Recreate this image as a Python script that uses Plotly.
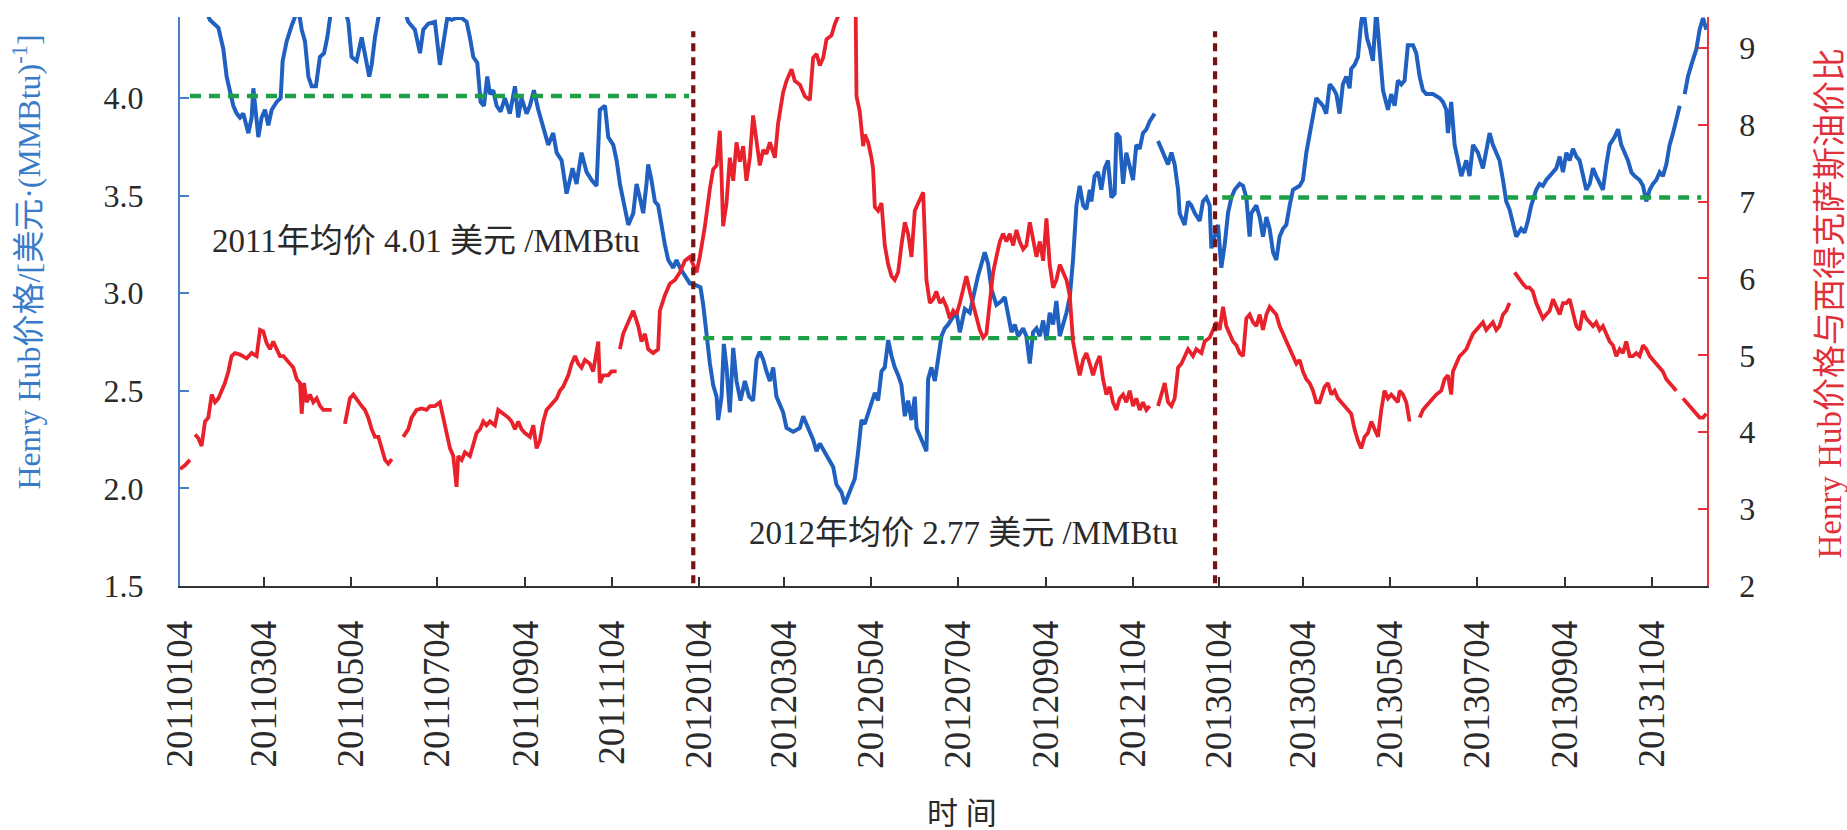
import pandas as pd
import plotly.graph_objects as go

START = pd.Timestamp("2011-01-04")

# Henry Hub spot price, USD/MMBtu (left axis).
# Each entry: (days since 2011-01-04, price); None marks missing data.
hh_series = [
    (0, 4.47), (8, 4.52), (16, 4.48), (21.1, 4.40), (27.0, 4.36), (30.5, 4.25), (32.8, 4.11),
    (35.2, 4.04), (37.5, 3.96), (39.9, 3.92), (42.2, 3.90), (44.5, 3.92), (48.1, 3.82),
    (50.4, 3.90), (51.6, 4.05), (53.4, 3.92), (55.1, 3.80), (57.4, 3.90), (59.8, 3.94),
    (62.1, 3.86), (64.5, 3.94), (68.0, 3.98), (70.8, 4.00), (72.2, 4.19), (75.0, 4.29),
    (78.5, 4.37), (80.9, 4.41), (83.2, 4.46), (85.6, 4.35), (87.9, 4.29), (90.3, 4.11),
    (92.6, 4.06), (95.6, 4.06), (98.4, 4.21), (101.3, 4.23), (103.6, 4.31), (105.5, 4.41),
    (108.0, 4.50), (115.0, 4.48), (118.4, 4.39), (120.7, 4.21), (124.2, 4.19), (127.8, 4.31),
    (130.1, 4.23), (133.1, 4.11), (134.8, 4.17), (137.1, 4.31), (139.5, 4.41), (143.0, 4.50),
    (150.0, 4.52), (157.0, 4.47), (160.5, 4.39), (165.2, 4.35), (168.8, 4.23), (171.1, 4.35),
    (174.6, 4.38), (179.3, 4.39), (182.8, 4.17), (185.2, 4.27), (188.0, 4.41), (191.0, 4.40),
    (194.5, 4.41), (198.1, 4.41), (201.6, 4.39), (203.9, 4.31), (206.3, 4.21), (209.1, 4.18),
    (210.5, 4.07), (211.4, 3.98), (213.8, 3.96), (216.1, 4.11), (218.0, 4.02), (220.3, 4.04),
    (222.7, 3.96), (225.5, 3.93), (228.5, 4.00), (232.0, 3.92), (235.6, 4.06), (237.9, 3.90),
    (240.2, 4.00), (243.8, 3.92), (246.1, 3.96), (248.9, 4.04), (252.0, 3.94), (255.5, 3.84),
    (259.0, 3.76), (262.5, 3.82), (264.9, 3.72), (268.4, 3.68), (271.9, 3.51), (274.2, 3.58),
    (276.1, 3.64), (278.9, 3.56), (282.4, 3.72), (286.0, 3.62), (289.5, 3.58), (293.0, 3.55),
    (295.3, 3.94), (298.9, 3.96), (301.2, 3.80), (304.7, 3.76), (307.1, 3.68), (309.4, 3.56),
    (311.7, 3.47), (315.3, 3.35), (318.8, 3.41), (321.1, 3.56), (323.4, 3.49), (325.8, 3.41),
    (328.1, 3.56), (329.3, 3.66), (331.6, 3.58), (334.0, 3.47), (336.3, 3.45), (338.7, 3.33),
    (341.0, 3.25), (343.4, 3.17), (346.9, 3.13), (349.2, 3.17), (351.6, 3.13), (355.1, 3.09),
    (358.6, 3.05), (363.3, 3.04), (366.1, 3.03), (368.0, 2.94), (370.3, 2.78), (372.7, 2.64),
    (375.0, 2.53), (377.4, 2.47), (378.5, 2.35), (380.9, 2.47), (382.5, 2.74), (384.4, 2.62),
    (386.7, 2.39), (389.1, 2.72), (391.4, 2.55), (394.2, 2.45), (397.3, 2.55), (400.3, 2.47),
    (403.1, 2.45), (405.5, 2.66), (407.8, 2.70), (410.2, 2.66), (412.5, 2.60), (414.9, 2.55),
    (417.2, 2.62), (419.5, 2.47), (424.2, 2.39), (426.6, 2.31), (431.3, 2.29), (436.0, 2.31),
    (438.3, 2.37), (440.6, 2.33), (445.3, 2.25), (447.7, 2.19), (450.0, 2.23), (454.7, 2.17),
    (459.4, 2.11), (461.7, 2.02), (465.3, 1.98), (467.6, 1.92), (471.1, 1.99), (474.6, 2.05),
    (477.0, 2.19), (479.3, 2.35), (481.6, 2.33), (484.0, 2.39), (486.3, 2.43), (488.7, 2.49),
    (491.0, 2.45), (493.4, 2.60), (495.7, 2.62), (498.1, 2.76), (500.4, 2.68), (502.7, 2.62),
    (505.1, 2.58), (507.4, 2.53), (509.8, 2.37), (512.1, 2.45), (514.5, 2.35), (516.8, 2.47),
    (518.0, 2.31), (521.5, 2.25), (525.0, 2.19), (526.2, 2.56), (528.5, 2.62), (530.9, 2.55),
    (533.2, 2.68), (535.6, 2.78), (537.9, 2.82), (540.3, 2.84), (543.8, 2.88), (546.1, 2.90),
    (548.5, 2.80), (552.0, 2.92), (555.5, 2.90), (559.0, 3.02), (561.3, 3.09), (563.7, 3.15),
    (566.0, 3.21), (568.4, 3.15), (570.7, 3.02), (574.2, 2.94), (577.8, 2.96), (580.1, 2.98),
    (582.4, 2.88), (584.8, 2.80), (587.1, 2.84), (589.5, 2.78), (593.0, 2.82), (595.3, 2.78),
    (597.7, 2.64), (600.0, 2.80), (602.4, 2.82), (604.7, 2.78), (607.1, 2.86), (609.4, 2.76),
    (611.7, 2.90), (614.1, 2.84), (616.4, 2.96), (618.8, 2.78), (621.1, 2.84), (623.5, 2.90),
    (625.8, 2.98), (628.1, 3.17), (630.5, 3.45), (632.8, 3.55), (635.2, 3.45), (637.5, 3.43),
    (639.9, 3.53), (641.0, 3.47), (643.3, 3.60), (645.7, 3.62), (648.0, 3.53), (650.4, 3.64),
    (652.7, 3.68), (655.1, 3.49), (657.4, 3.51), (658.6, 3.82), (660.9, 3.80), (663.3, 3.56),
    (665.6, 3.72), (668.0, 3.64), (670.3, 3.58), (672.6, 3.76), (675.0, 3.74), (677.3, 3.82),
    (679.7, 3.84), (682.0, 3.88), (685.5, 3.92), (686.7, None), (687.9, 3.78), (690.2, 3.74),
    (692.6, 3.70), (694.9, 3.66), (697.3, 3.72), (699.6, 3.66), (702.0, 3.53), (703.1, 3.41),
    (706.6, 3.35), (709.0, 3.47), (711.3, 3.45), (713.7, 3.41), (717.2, 3.37), (719.5, 3.47),
    (721.9, 3.49), (724.2, 3.45), (725.4, 3.23), (727.7, 3.29), (730.1, 3.35), (732.4, 3.13),
    (734.8, 3.25), (737.1, 3.41), (739.5, 3.49), (741.8, 3.53), (745.3, 3.56), (747.7, 3.55),
    (750.0, 3.49), (752.3, 3.29), (753.5, 3.41), (757.0, 3.45), (759.4, 3.39), (761.7, 3.29),
    (764.1, 3.39), (766.4, 3.33), (768.8, 3.21), (771.1, 3.17), (773.4, 3.29), (775.8, 3.33),
    (778.1, 3.35), (780.5, 3.45), (782.8, 3.53), (787.5, 3.55), (789.8, 3.58), (792.2, 3.72),
    (794.5, 3.82), (796.9, 3.92), (799.2, 4.00), (801.5, 3.98), (803.9, 3.96), (806.2, 3.92),
    (808.6, 4.07), (810.9, 4.05), (813.3, 4.02), (815.6, 3.92), (817.9, 4.07), (820.3, 4.11),
    (822.6, 4.05), (823.8, 4.15), (826.1, 4.17), (828.5, 4.21), (830.8, 4.39), (832.5, 4.45),
    (834.8, 4.31), (837.2, 4.25), (839.0, 4.19), (841.4, 4.45), (843.7, 4.23), (846.1, 4.04),
    (849.6, 3.94), (851.9, 4.02), (854.3, 3.96), (856.6, 4.09), (859.0, 4.07), (861.3, 4.09),
    (863.6, 4.27), (867.2, 4.27), (869.5, 4.23), (871.9, 4.11), (874.2, 4.04), (876.5, 4.02),
    (881.2, 4.02), (885.9, 4.00), (888.3, 3.98), (890.6, 3.94), (891.8, 3.82), (894.1, 3.98),
    (896.5, 3.76), (898.8, 3.68), (901.2, 3.60), (904.7, 3.68), (907.0, 3.60), (909.4, 3.76),
    (912.9, 3.72), (916.4, 3.64), (918.7, 3.72), (921.1, 3.82), (923.4, 3.76), (925.8, 3.72),
    (928.1, 3.68), (930.5, 3.58), (932.8, 3.47), (935.1, 3.43), (937.5, 3.35), (939.8, 3.29),
    (943.3, 3.33), (945.7, 3.31), (948.0, 3.37), (950.4, 3.45), (953.9, 3.53), (956.2, 3.56),
    (958.6, 3.55), (960.9, 3.58), (963.3, 3.60), (965.7, 3.62), (968.0, 3.64), (970.4, 3.70),
    (972.7, 3.62), (975.1, 3.72), (977.4, 3.68), (979.7, 3.74), (982.1, 3.70), (984.4, 3.68),
    (986.8, 3.60), (989.1, 3.53), (991.5, 3.56), (993.8, 3.64), (996.1, 3.60), (998.5, 3.56),
    (1000.8, 3.53), (1003.2, 3.66), (1005.5, 3.76), (1009.0, 3.80), (1011.4, 3.84),
    (1013.7, 3.76), (1016.1, 3.72), (1018.4, 3.68), (1020.8, 3.62), (1023.1, 3.60),
    (1026.6, 3.58), (1029.0, 3.55), (1031.3, 3.47), (1033.7, 3.53), (1036.0, 3.56),
    (1038.3, 3.58), (1040.7, 3.62), (1043.0, 3.60), (1045.4, 3.66), (1047.7, 3.76),
    (1050.1, 3.82), (1052.4, 3.88), (1054.8, 3.96), (1056.5, None), (1058.3, 4.02),
    (1060.6, 4.11), (1063.0, 4.17), (1066.5, 4.25), (1068.8, 4.35), (1071.2, 4.41),
    (1073.5, 4.35),
]

# Henry Hub price relative to WTI oil price (right axis).
# Each entry: (days since 2011-01-04, value); None marks missing data.
ratio_series = [
    (0, 3.52), (3.5, 3.57), (7.0, 3.64), (8.8, None), (10.6, 3.97), (12.9, 3.92), (15.2, 3.82),
    (17.6, 4.14), (19.9, 4.19), (22.3, 4.49), (24.6, 4.39), (27.0, 4.44), (29.3, 4.54),
    (31.6, 4.64), (34.0, 4.79), (36.3, 4.99), (38.7, 5.03), (42.2, 5.01), (46.9, 4.96),
    (50.4, 5.03), (53.9, 4.99), (56.3, 5.33), (58.6, 5.31), (60.9, 5.16), (63.3, 5.08),
    (65.6, 5.18), (68.0, 5.08), (70.3, 4.99), (72.7, 4.99), (75.0, 4.94), (77.4, 4.89),
    (79.7, 4.84), (82.1, 4.69), (84.4, 4.64), (85.6, 4.24), (87.2, 4.64), (89.1, 4.39),
    (91.4, 4.49), (93.8, 4.39), (96.1, 4.44), (98.5, 4.34), (100.8, 4.29), (103.1, 4.29),
    (106.7, 4.29), (111.0, None), (116.0, 4.11), (119.5, 4.44), (121.9, 4.49), (125.4, 4.39),
    (127.8, 4.34), (130.1, 4.29), (132.4, 4.19), (134.8, 4.04), (137.1, 3.94), (139.5, 3.94),
    (141.8, 3.79), (144.2, 3.64), (146.5, 3.59), (149.0, 3.65), (153.0, None), (157.0, 3.94),
    (160.6, 4.04), (162.9, 4.19), (166.4, 4.29), (169.9, 4.31), (173.4, 4.29), (175.8, 4.34),
    (179.3, 4.34), (182.8, 4.39), (185.2, 4.19), (187.5, 3.99), (189.9, 3.79), (192.2, 3.69),
    (194.5, 3.29), (195.7, 3.69), (198.1, 3.64), (200.4, 3.74), (203.9, 3.69), (206.3, 3.84),
    (208.6, 3.99), (211.0, 4.04), (213.3, 4.14), (215.6, 4.09), (218.0, 4.14), (221.5, 4.09),
    (223.8, 4.29), (227.4, 4.24), (230.9, 4.19), (233.2, 4.14), (235.6, 4.04), (237.9, 4.14),
    (240.2, 4.04), (242.6, 3.99), (246.1, 3.94), (248.5, 4.09), (250.8, 3.79), (253.1, 3.89),
    (255.5, 4.14), (257.8, 4.29), (260.2, 4.34), (262.5, 4.39), (264.9, 4.44), (267.2, 4.54),
    (269.5, 4.59), (273.1, 4.74), (275.4, 4.89), (277.8, 4.99), (280.1, 4.89), (282.4, 4.84),
    (284.8, 4.94), (288.3, 4.89), (290.6, 4.79), (294.2, 5.18), (295.3, 4.64), (297.7, 4.74),
    (301.2, 4.74), (303.5, 4.79), (307.1, 4.79), (308.3, None), (309.4, 5.08), (311.7, 5.28),
    (316.4, 5.48), (318.8, 5.58), (322.3, 5.38), (324.6, 5.18), (327.0, 5.28), (329.3, 5.08),
    (332.8, 5.03), (336.3, 5.08), (337.5, 5.58), (341.0, 5.78), (344.5, 5.93), (348.1, 5.98),
    (351.6, 6.08), (355.1, 6.23), (358.6, 6.28), (361.0, 6.18), (363.3, 6.08), (365.6, 6.28),
    (369.2, 6.68), (372.7, 7.17), (375.0, 7.42), (377.4, 7.47), (379.7, 7.92), (380.9, 7.32),
    (382.0, 6.68), (384.4, 6.98), (386.7, 7.57), (389.1, 7.27), (391.4, 7.77), (393.8, 7.52),
    (396.1, 7.72), (398.4, 7.27), (400.8, 7.57), (403.1, 8.12), (405.5, 7.82), (407.8, 7.47),
    (410.2, 7.67), (412.5, 7.62), (414.9, 7.77), (418.4, 7.57), (420.7, 8.02), (424.2, 8.42),
    (426.6, 8.57), (430.1, 8.72), (432.4, 8.57), (436.0, 8.52), (439.5, 8.37), (443.0, 8.32),
    (445.3, 8.87), (447.7, 8.92), (450.0, 8.77), (452.4, 8.87), (454.7, 9.11), (458.2, 9.16),
    (460.6, 9.31), (462.9, 9.41), (466.0, 9.80), (471.0, 10.0), (475.0, 9.90), (475.8, 8.37),
    (478.1, 8.17), (480.5, 7.72), (481.6, 7.87), (484.0, 7.77), (486.3, 7.57), (487.5, 7.42),
    (488.7, 6.93), (491.0, 6.88), (493.4, 6.98), (494.5, 6.68), (495.7, 6.43), (498.1, 6.18),
    (500.4, 6.03), (502.7, 5.98), (505.1, 6.08), (507.4, 6.43), (509.8, 6.73), (512.1, 6.58),
    (514.5, 6.28), (516.8, 6.88), (520.3, 7.02), (522.7, 7.12), (525.0, 5.98), (527.4, 5.68),
    (529.7, 5.73), (532.0, 5.83), (534.4, 5.68), (536.7, 5.73), (539.1, 5.63), (541.4, 5.48),
    (543.8, 5.58), (546.1, 5.53), (548.5, 5.68), (550.8, 5.88), (553.1, 6.03), (555.5, 5.83),
    (557.8, 5.68), (560.2, 5.48), (562.5, 5.33), (564.9, 5.23), (567.2, 5.28), (569.5, 5.68),
    (571.9, 6.08), (574.2, 6.28), (576.6, 6.48), (578.9, 6.58), (581.3, 6.48), (583.6, 6.58),
    (586.0, 6.43), (588.3, 6.63), (590.6, 6.48), (593.0, 6.38), (595.3, 6.43), (597.7, 6.73),
    (600.0, 6.48), (602.4, 6.28), (604.7, 6.48), (607.1, 6.23), (609.4, 6.78), (611.7, 6.18),
    (614.1, 5.88), (616.4, 5.98), (618.8, 6.18), (621.1, 6.08), (623.5, 5.98), (625.8, 5.78),
    (628.1, 5.18), (630.5, 4.94), (632.8, 4.74), (635.2, 4.94), (637.5, 5.03), (639.9, 4.89),
    (642.2, 4.74), (644.5, 4.89), (646.9, 4.99), (649.2, 4.69), (651.6, 4.49), (653.9, 4.59),
    (656.2, 4.39), (658.6, 4.29), (660.9, 4.44), (663.3, 4.49), (665.6, 4.39), (668.0, 4.54),
    (670.3, 4.34), (672.6, 4.44), (675.0, 4.29), (677.3, 4.39), (679.7, 4.29), (682.0, 4.34),
    (685.0, None), (687.9, 4.34), (690.2, 4.49), (692.6, 4.64), (694.9, 4.39), (697.3, 4.34),
    (699.6, 4.44), (702.0, 4.84), (704.3, 4.89), (706.6, 4.99), (709.0, 5.08), (712.5, 4.99),
    (714.8, 5.08), (718.4, 5.03), (720.7, 5.18), (724.2, 5.23), (726.6, 5.33), (728.9, 5.43),
    (731.2, 5.33), (733.6, 5.63), (735.9, 5.38), (738.3, 5.28), (740.6, 5.18), (743.0, 5.13),
    (745.3, 5.03), (747.7, 4.99), (750.0, 5.48), (752.3, 5.53), (754.7, 5.43), (757.0, 5.38),
    (759.4, 5.53), (761.7, 5.33), (764.1, 5.53), (766.4, 5.63), (768.8, 5.58), (771.1, 5.53),
    (773.4, 5.38), (775.8, 5.28), (778.1, 5.18), (780.5, 5.08), (782.8, 4.99), (785.2, 4.89),
    (787.5, 4.94), (789.8, 4.79), (792.2, 4.69), (794.5, 4.64), (796.9, 4.54), (799.2, 4.39),
    (801.5, 4.39), (805.0, 4.59), (807.4, 4.64), (809.7, 4.49), (812.1, 4.54), (814.4, 4.44),
    (816.8, 4.39), (819.1, 4.34), (821.5, 4.29), (823.8, 4.24), (826.1, 4.04), (828.5, 3.89),
    (830.8, 3.79), (833.2, 3.94), (835.5, 3.99), (837.9, 4.14), (840.2, 4.04), (842.6, 3.94),
    (844.9, 4.29), (847.2, 4.54), (849.6, 4.44), (851.9, 4.49), (854.3, 4.44), (856.6, 4.39),
    (857.8, 4.54), (860.1, 4.49), (862.5, 4.39), (864.8, 4.14), (868.0, None), (871.9, 4.19),
    (874.2, 4.29), (876.5, 4.34), (878.9, 4.39), (881.2, 4.44), (883.6, 4.49), (887.1, 4.54),
    (889.4, 4.69), (891.8, 4.74), (894.1, 4.49), (895.3, 4.79), (897.6, 4.89), (900.0, 4.99),
    (902.3, 5.03), (904.7, 5.08), (907.0, 5.18), (909.4, 5.28), (911.7, 5.33), (914.0, 5.38),
    (916.4, 5.43), (918.7, 5.33), (921.1, 5.38), (923.4, 5.43), (925.8, 5.33), (928.1, 5.38),
    (930.5, 5.53), (932.8, 5.58), (935.1, 5.68), (937.0, None), (938.7, 6.08), (942.2, 5.98),
    (944.5, 5.93), (946.9, 5.88), (949.2, 5.88), (951.5, 5.83), (953.9, 5.68), (956.2, 5.58),
    (958.6, 5.48), (960.9, 5.53), (963.3, 5.58), (965.7, 5.73), (968.0, 5.63), (970.4, 5.53),
    (972.7, 5.68), (975.1, 5.68), (977.4, 5.73), (979.7, 5.53), (982.1, 5.38), (984.4, 5.33),
    (986.8, 5.58), (989.1, 5.48), (991.5, 5.43), (993.8, 5.38), (996.1, 5.43), (998.5, 5.33),
    (1000.8, 5.38), (1003.2, 5.28), (1005.5, 5.18), (1007.9, 5.13), (1010.2, 4.99),
    (1012.6, 5.08), (1014.9, 5.03), (1017.2, 5.18), (1019.6, 4.99), (1021.9, 4.99),
    (1024.3, 5.03), (1026.6, 4.99), (1029.0, 5.13), (1031.3, 5.08), (1033.7, 4.99),
    (1036.0, 4.94), (1038.3, 4.89), (1040.7, 4.84), (1043.0, 4.79), (1045.4, 4.69),
    (1047.7, 4.64), (1050.1, 4.59), (1052.4, 4.54), (1054.8, None), (1057.1, 4.44),
    (1059.4, 4.39), (1061.8, 4.34), (1064.1, 4.29), (1066.5, 4.24), (1068.8, 4.19),
    (1071.2, 4.19), (1073.5, 4.24),
]

# Annual average Henry Hub prices and the span each reference line covers
avg_years = ["2011", "2012", "2013"]
avg_values = [4.01, 2.77, 3.49]
avg_start = ["2011-01-11", "2012-01-07", "2013-01-06"]
avg_end = ["2011-12-28", "2012-12-24", "2013-12-09"]
labelled_years = ["2011", "2012"]
label_pos = {"2011": ("2011-01-25", 3.27), "2012": ("2012-02-07", 1.77)}

# Year boundaries
year_marks = ["2011-12-31", "2013-01-01"]

# Bottom axis ticks
tick_dates = [
    "2011-01-04", "2011-03-04", "2011-05-04", "2011-07-04", "2011-09-04", "2011-11-04",
    "2012-01-04", "2012-03-04", "2012-05-04", "2012-07-04", "2012-09-04", "2012-11-04",
    "2013-01-04", "2013-03-04", "2013-05-04", "2013-07-04", "2013-09-04", "2013-11-04",
]
tick_text = [d.replace("-", "") for d in tick_dates]

BLUE = "#1f60c0"
RED = "#e8212b"
GREEN = "#1c9f47"
MAROON = "#761212"
SERIF = "Liberation Serif, Noto Sans CJK SC, serif"
TEXT = "#2a2a2a"


def to_xy(series):
    xs = [START + pd.Timedelta(days=d) for d, _ in series]
    ys = [v for _, v in series]
    return xs, ys


fig = go.Figure()

bx, by = to_xy(hh_series)
fig.add_trace(go.Scatter(x=bx, y=by, mode="lines", yaxis="y",
                         line=dict(color=BLUE, width=4.0), connectgaps=False,
                         name="Henry Hub"))

rx, ry = to_xy(ratio_series)
fig.add_trace(go.Scatter(x=rx, y=ry, mode="lines", yaxis="y2",
                         line=dict(color=RED, width=3.8), connectgaps=False,
                         name="ratio"))

for yr, val, s, e in zip(avg_years, avg_values, avg_start, avg_end):
    fig.add_trace(go.Scatter(x=[s, e], y=[val, val], mode="lines", yaxis="y",
                             line=dict(color=GREEN, width=4.4, dash="11px,8px"),
                             name=yr + " avg"))

for d in year_marks:
    fig.add_shape(type="line", xref="x", yref="paper", x0=d, x1=d, y0=0.005, y1=0.975,
                  line=dict(color=MAROON, width=4.2, dash="8px,6px"), layer="above")

for yr, val in zip(avg_years, avg_values):
    if yr in labelled_years:
        ax, ay = label_pos[yr]
        fig.add_annotation(x=ax, y=ay, xref="x", yref="y", xanchor="left", yanchor="middle",
                           text=f"{yr}年均价 {val:.2f} 美元 /MMBtu", showarrow=False,
                           font=dict(family=SERIF, size=33, color=TEXT))

# Axis titles
fig.add_annotation(xref="paper", yref="paper", x=(26 - 180) / 1527, y=(586 - 492) / 569,
                   xanchor="center", yanchor="bottom", textangle=-90, showarrow=False,
                   text="Henry Hub价格/[美元·(MMBtu)<sup>-1</sup>]",
                   font=dict(family=SERIF, size=32, color="#3a7bc8"))
fig.add_annotation(xref="paper", yref="paper", x=(1829 - 180) / 1527, y=(586 - 560) / 569,
                   xanchor="center", yanchor="bottom", textangle=-90, showarrow=False,
                   text="Henry Hub价格与西得克萨斯油价比",
                   font=dict(family=SERIF, size=33, color="#e0303a"))
fig.add_annotation(xref="paper", yref="paper", x=(962 - 180) / 1527, y=(586 - 813) / 569,
                   xanchor="center", yanchor="middle", showarrow=False,
                   text="时 间", font=dict(family=SERIF, size=31, color=TEXT))

fig.update_layout(
    width=1847, height=830, autosize=False,
    margin=dict(l=180, r=140, t=17, b=244),
    paper_bgcolor="white", plot_bgcolor="white",
    showlegend=False,
    xaxis=dict(type="date", range=["2011-01-04", "2013-12-13"],
               tickvals=tick_dates, ticktext=tick_text, tickangle=-90,
               tickfont=dict(family=SERIF, size=37, color=TEXT),
               ticks="inside", ticklen=9, tickwidth=1.5, tickcolor="#333",
               showline=True, linecolor="#333", linewidth=2,
               showgrid=False, zeroline=False, ticklabelstandoff=18),
    yaxis=dict(range=[1.5, 4.415], tickvals=[1.5, 2.0, 2.5, 3.0, 3.5, 4.0],
               tickformat=".1f",
               tickfont=dict(family=SERIF, size=32, color=TEXT),
               ticks="inside", ticklen=9, tickwidth=1.5, tickcolor="#4a7ec4",
               showline=True, linecolor="#4a7ec4", linewidth=2,
               showgrid=False, zeroline=False, ticklabelstandoff=28),
    yaxis2=dict(range=[2, 9.40], overlaying="y", side="right", dtick=1, tick0=2,
                tickfont=dict(family=SERIF, size=32, color=TEXT),
                ticks="inside", ticklen=9, tickwidth=1.5, tickcolor="#e8323c",
                showline=True, linecolor="#e8323c", linewidth=1.6,
                showgrid=False, zeroline=False, ticklabelstandoff=24),
)

fig.write_html("out.html")
